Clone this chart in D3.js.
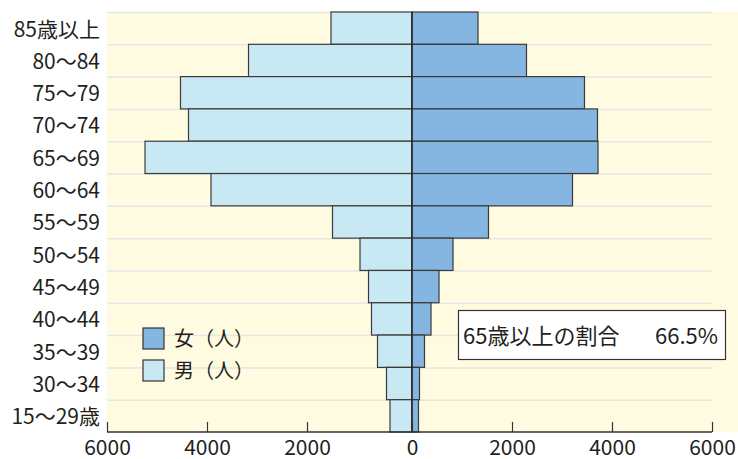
<!DOCTYPE html>
<html>
<head>
<meta charset="utf-8">
<script src="https://cdn.jsdelivr.net/npm/d3@7"></script>
<style>
  body { margin: 0; background: #fff; }
  text { font-family: "Noto Sans CJK JP", sans-serif; fill: #231f20; }
</style>
</head>
<body>
<div class="pyramid"></div>
<script>
var ageGroups = ["85歳以上", "80～84", "75～79", "70～74", "65～69", "60～64", "55～59",
    "50～54", "45～49", "40～44", "35～39", "30～34", "15～29歳"];
var male = [1520, 3170, 4530, 4370, 5240, 3920, 1490, 940, 770, 710, 590, 410, 340];
var female = [1320, 2290, 3450, 3710, 3720, 3210, 1530, 820, 540, 380, 250, 150, 130];
var tickValues = [0, 2000, 4000, 6000];
var seriesNames = ["女（人）", "男（人）"];
var note = ["65歳以上の割合", "66.5%"];

var width = 738, height = 459;
var plotTop = 12, plotBottom = 432;
var fontSize = 21;

var rows = ageGroups.map(function(a, i) {
    return { age: a, male: male[i], female: female[i] };
});

var y = d3.scaleBand().domain(ageGroups).range([plotTop, plotBottom]);
var xL = d3.scaleLinear().domain([0, 6000]).range([407, 107]);
var xR = d3.scaleLinear().domain([0, 6000]).range([412, 712]);

var svg = d3.select(".pyramid")
    .append("svg")
    .attr("width", width)
    .attr("height", height);

// cream background
svg.append("rect")
    .attr("x", xL(6000))
    .attr("y", plotTop)
    .attr("width", width - xL(6000))
    .attr("height", plotBottom - plotTop)
    .attr("fill", "#fffbe1");

// grid lines at row edges
svg.selectAll(".grid")
    .data(ageGroups)
    .enter().append("line")
    .attr("class", "grid")
    .attr("x1", xL(6000))
    .attr("x2", xR(6000))
    .attr("y1", function(d) { return y(d) + 0.5; })
    .attr("y2", function(d) { return y(d) + 0.5; })
    .attr("stroke", "#e6e6e3")
    .attr("stroke-width", 1.5);

svg.selectAll(".male")
    .data(rows)
    .enter().append("rect")
    .attr("class", "male")
    .attr("x", function(d) { return xL(d.male); })
    .attr("y", function(d) { return y(d.age); })
    .attr("width", function(d) { return xR(0) - xL(d.male); })
    .attr("height", y.bandwidth())
    .attr("fill", "#c8e8f4")
    .attr("stroke", "#3a3a3a")
    .attr("stroke-width", 1.2);

svg.selectAll(".female")
    .data(rows)
    .enter().append("rect")
    .attr("class", "female")
    .attr("x", xR(0))
    .attr("y", function(d) { return y(d.age); })
    .attr("width", function(d) { return xR(d.female) - xR(0); })
    .attr("height", y.bandwidth())
    .attr("fill", "#85b5e1")
    .attr("stroke", "#3a3a3a")
    .attr("stroke-width", 1.2);

// centre line
svg.append("line")
    .attr("x1", xR(0)).attr("x2", xR(0))
    .attr("y1", plotTop).attr("y2", plotBottom)
    .attr("stroke", "#222")
    .attr("stroke-width", 1.3);

// bottom axis
var axisL = d3.axisBottom(xL).tickValues(tickValues.slice(1)).tickFormat(d3.format("d"))
    .tickSizeInner(-10).tickSizeOuter(0).tickPadding(8);
var axisR = d3.axisBottom(xR).tickValues(tickValues).tickFormat(d3.format("d"))
    .tickSizeInner(-10).tickSizeOuter(0).tickPadding(8);

[axisL, axisR].forEach(function(ax) {
    var g = svg.append("g")
        .attr("transform", "translate(0," + plotBottom + ")")
        .call(ax);
    g.select(".domain").remove();
    g.selectAll("line").attr("stroke", "#333").attr("stroke-width", 1.2);
    g.selectAll("text").style("font-size", fontSize + "px")
        .style("font-family", "'Noto Sans CJK JP', sans-serif").attr("fill", "#231f20");
});

svg.append("line")
    .attr("x1", xL(6000)).attr("x2", xR(6000))
    .attr("y1", plotBottom).attr("y2", plotBottom)
    .attr("stroke", "#333")
    .attr("stroke-width", 1.3);

// age labels
svg.selectAll(".age")
    .data(ageGroups)
    .enter().append("text")
    .attr("class", "age")
    .attr("x", 100)
    .attr("y", function(d) { return y(d) + y.bandwidth() / 2 + 1; })
    .attr("dy", "0.35em")
    .style("text-anchor", "end")
    .style("font-size", fontSize + "px")
    .text(function(d) { return d; });

// legend
var legend = svg.selectAll(".legend")
    .data(seriesNames)
    .enter().append("g")
    .attr("class", "legend")
    .attr("transform", function(d, i) { return "translate(143," + (328 + i * 32) + ")"; });

legend.append("rect")
    .attr("width", 21)
    .attr("height", 21)
    .attr("fill", function(d, i) { return i === 0 ? "#85b5e1" : "#c8e8f4"; })
    .attr("stroke", "#333")
    .attr("stroke-width", 1.2);

legend.append("text")
    .attr("x", 31)
    .attr("y", 11)
    .attr("dy", "0.35em")
    .style("font-size", "20px")
    .text(function(d) { return d; });

// note box
svg.append("rect")
    .attr("x", 458.5)
    .attr("y", 310.5)
    .attr("width", 267)
    .attr("height", 49)
    .attr("fill", "#fff")
    .attr("stroke", "#333")
    .attr("stroke-width", 1.2);

var noteText = svg.append("text")
    .attr("x", 463)
    .attr("y", 336)
    .attr("dy", "0.35em")
    .style("font-size", "22px");
noteText.append("tspan").text(note[0]);
noteText.append("tspan").attr("x", 655).text(note[1]);
</script>
</body>
</html>
